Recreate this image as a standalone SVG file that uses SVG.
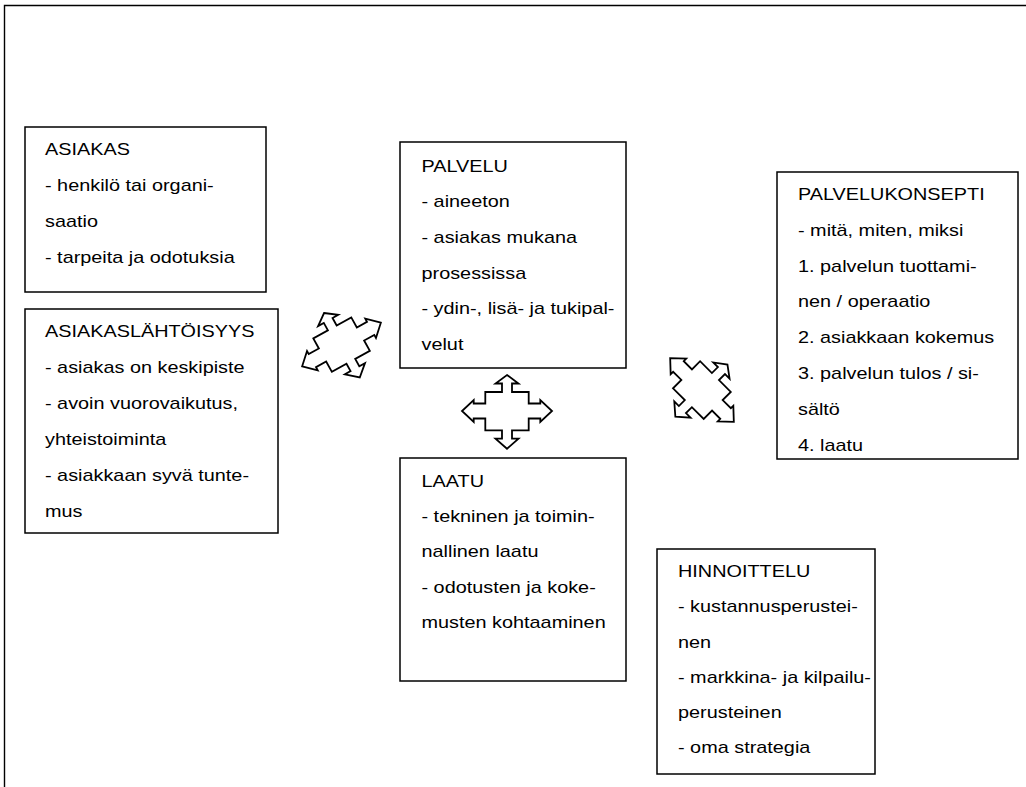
<svg xmlns="http://www.w3.org/2000/svg" xmlns:xlink="http://www.w3.org/1999/xlink" width="1026" height="787" viewBox="0 0 1026 787">
  <style>
    .box { fill: #ffffff; stroke: #000000; stroke-width: 1.5; }
    .frame { fill: none; stroke: #000000; stroke-width: 1.4; }
    .quad { fill: #ffffff; stroke: #000000; stroke-width: 1.8; stroke-linejoin: miter; }
    .lbl { font-family: "Liberation Sans", Arial, sans-serif; font-size: 16.2px; fill: #000000; }
  </style>
  <defs>
    <!-- four-way block arrow, centred on its origin -->
    <polygon id="quadArrow" class="quad" points="0,-36 11.5,-27.5 5,-27.5 5,-19 21.7,-19 21.7,-7.5 33.3,-7.5 33.3,-11 45,0 33.3,11 33.3,7.5 21.7,7.5 21.7,19.3 5,19.3 5,27.7 11.5,27.7 0,37.7 -11.5,27.7 -5,27.7 -5,19.3 -21.7,19.3 -21.7,7.5 -33.3,7.5 -33.3,11 -45,0 -33.3,-11 -33.3,-7.5 -21.7,-7.5 -21.7,-19 -5,-19 -5,-27.5 -11.5,-27.5"/>
  </defs>

  <rect x="0" y="0" width="1026" height="787" fill="#ffffff"/>
  <path class="frame" d="M4.5,787 V5.5 H1026"/>

  <g id="connectors">
    <use xlink:href="#quadArrow" transform="translate(341.5,344.5) rotate(-29)"/>
    <use xlink:href="#quadArrow" transform="translate(507,411)"/>
    <use xlink:href="#quadArrow" transform="translate(702,390) rotate(45)"/>
  </g>

  <g id="asiakas">
    <rect class="box" x="25" y="127" width="241" height="165"/>
    <text class="lbl" transform="translate(45,155) scale(1.225,1)">
      <tspan x="0" y="0">ASIAKAS</tspan>
      <tspan x="0" y="36">- henkilö tai organi-</tspan>
      <tspan x="0" y="72">saatio</tspan>
      <tspan x="0" y="108">- tarpeita ja odotuksia</tspan>
    </text>
  </g>

  <g id="asiakaslahtoisyys">
    <rect class="box" x="25" y="309" width="253" height="224"/>
    <text class="lbl" transform="translate(45,337) scale(1.225,1)">
      <tspan x="0" y="0">ASIAKASLÄHTÖISYYS</tspan>
      <tspan x="0" y="36">- asiakas on keskipiste</tspan>
      <tspan x="0" y="72">- avoin vuorovaikutus,</tspan>
      <tspan x="0" y="108">yhteistoiminta</tspan>
      <tspan x="0" y="144">- asiakkaan syvä tunte-</tspan>
      <tspan x="0" y="180">mus</tspan>
    </text>
  </g>

  <g id="palvelu">
    <rect class="box" x="400" y="142" width="226" height="226"/>
    <text class="lbl" transform="translate(421.5,171.5) scale(1.225,1)">
      <tspan x="0" y="0">PALVELU</tspan>
      <tspan x="0" y="35.7">- aineeton</tspan>
      <tspan x="0" y="71.4">- asiakas mukana</tspan>
      <tspan x="0" y="107.1">prosessissa</tspan>
      <tspan x="0" y="142.8">- ydin-, lisä- ja tukipal-</tspan>
      <tspan x="0" y="178.5">velut</tspan>
    </text>
  </g>

  <g id="palvelukonsepti">
    <rect class="box" x="777" y="172" width="241" height="287"/>
    <text class="lbl" transform="translate(798,200) scale(1.225,1)">
      <tspan x="0" y="0">PALVELUKONSEPTI</tspan>
      <tspan x="0" y="35.8">- mitä, miten, miksi</tspan>
      <tspan x="0" y="71.6">1. palvelun tuottami-</tspan>
      <tspan x="0" y="107.4">nen / operaatio</tspan>
      <tspan x="0" y="143.2">2. asiakkaan kokemus</tspan>
      <tspan x="0" y="179">3. palvelun tulos / si-</tspan>
      <tspan x="0" y="214.8">sältö</tspan>
      <tspan x="0" y="250.6">4. laatu</tspan>
    </text>
  </g>

  <g id="laatu">
    <rect class="box" x="400" y="458" width="226" height="223"/>
    <text class="lbl" transform="translate(421.5,486.5) scale(1.225,1)">
      <tspan x="0" y="0">LAATU</tspan>
      <tspan x="0" y="35.5">- tekninen ja toimin-</tspan>
      <tspan x="0" y="71">nallinen laatu</tspan>
      <tspan x="0" y="106.5">- odotusten ja koke-</tspan>
      <tspan x="0" y="142">musten kohtaaminen</tspan>
    </text>
  </g>

  <g id="hinnoittelu">
    <rect class="box" x="657" y="549" width="218" height="225"/>
    <text class="lbl" transform="translate(678,577) scale(1.225,1)">
      <tspan x="0" y="0">HINNOITTELU</tspan>
      <tspan x="0" y="35.3">- kustannusperustei-</tspan>
      <tspan x="0" y="70.6">nen</tspan>
      <tspan x="0" y="105.9">- markkina- ja kilpailu-</tspan>
      <tspan x="0" y="141.2">perusteinen</tspan>
      <tspan x="0" y="176.5">- oma strategia</tspan>
    </text>
  </g>
</svg>
